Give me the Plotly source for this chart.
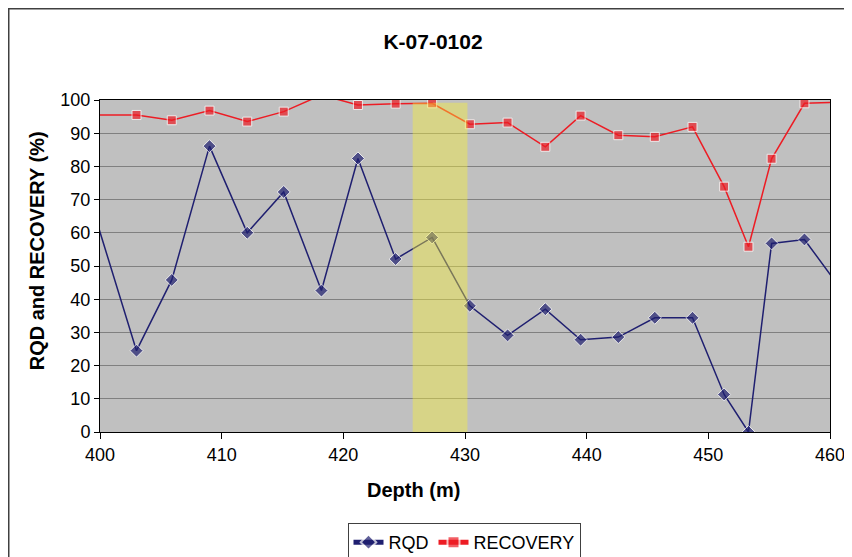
import plotly.graph_objects as go

# depths (m); first and last points sit just outside the axis range
depth = [399.9, 403.0, 405.9, 409.0, 412.1, 415.1, 418.2, 421.2, 424.3, 427.3, 430.4,
         433.5, 436.6, 439.5, 442.6, 445.6, 448.7, 451.3, 453.3, 455.2, 457.9, 460.9]
rqd = [61.4, 24.5, 45.8, 86.1, 60.0, 72.3, 42.6, 82.4, 52.1, 58.6, 38.0,
       29.1, 37.0, 27.8, 28.6, 34.4, 34.4, 11.3, 0.0, 56.8, 58.0, 43.0]
recovery = [95.5, 95.5, 93.9, 96.8, 93.5, 96.5, 101.5, 98.5, 98.9, 99.0, 92.7,
            93.2, 85.9, 95.3, 89.4, 88.9, 91.9, 73.9, 55.8, 82.3, 99.0, 99.3]
highlight = [425.7, 430.2]

COLORS = {
    'rqd': '#1f1f70',
    'recovery': '#ed1c24',
    'plot_bg': '#c0c0c0',
    'grid': '#808080',
    'band': 'rgba(247,240,57,0.42)',
}

FONT = 'Liberation Sans, Arial, sans-serif'
W, H = 844, 549  # page body adds an 8px offset

def marker_sizes(xs, size):
    return [size if 400 <= x <= 460 else 0 for x in xs]

fig = go.Figure()

fig.add_trace(go.Scatter(
    x=depth, y=rqd, name='RQD', mode='lines+markers',
    line=dict(color=COLORS['rqd'], width=1.5),
    marker=dict(symbol='diamond', size=marker_sizes(depth, 10), color=COLORS['rqd'])
))

fig.add_trace(go.Scatter(
    x=depth, y=recovery, name='RECOVERY', mode='lines+markers',
    line=dict(color=COLORS['recovery'], width=1.5),
    marker=dict(symbol='square', size=marker_sizes(depth, 9), color=COLORS['recovery'])
))

# highlighted interval
fig.add_shape(type='rect', xref='x', yref='y', x0=highlight[0], x1=highlight[1],
              y0=0, y1=99.2, fillcolor=COLORS['band'], line_width=0, layer='above')

# chart frame
fig.add_shape(type='rect', xref='paper', yref='paper', x0=-0.125, x1=1.05,
              y0=-0.45, y1=1.275, line=dict(color='#404040', width=1.5),
              fillcolor='rgba(0,0,0,0)', layer='below')

# axis titles (placed like the original, off-centre)
fig.add_annotation(text='<b>RQD and RECOVERY (%)</b>', xref='paper', yref='paper',
                   x=-0.086, y=0.545, textangle=-90, showarrow=False,
                   xanchor='center', yanchor='middle', font=dict(size=20))
fig.add_annotation(text='<b>Depth (m)</b>', xref='paper', yref='paper',
                   x=0.429, y=-0.175, showarrow=False,
                   xanchor='center', yanchor='middle', font=dict(size=20))

fig.update_layout(
    width=W, height=H,
    margin=dict(l=92, r=22, t=92, b=125),
    paper_bgcolor='white',
    plot_bgcolor=COLORS['plot_bg'],
    font=dict(family=FONT, color='black', size=18),
    title=dict(text='<b>K-07-0102</b>', x=425 / W, xref='container', xanchor='center',
               y=1 - 34 / H, yref='container', yanchor='middle', font=dict(size=21)),
    showlegend=True,
    legend=dict(orientation='h', xref='container', yref='container',
                x=456 / W, xanchor='center', y=1 - 515 / H, yanchor='top',
                bordercolor='#404040', borderwidth=1, bgcolor='white',
                font=dict(size=18), itemsizing='constant'),
    xaxis=dict(
        range=[400, 460], dtick=10, tick0=400,
        showgrid=False, zeroline=False,
        showline=True, linecolor='black', linewidth=1, mirror=True,
        ticks='outside', ticklen=6, tickcolor='black',
        automargin=False,
    ),
    yaxis=dict(
        range=[0, 100], dtick=10, tick0=0,
        showgrid=True, gridcolor=COLORS['grid'], gridwidth=1, zeroline=False,
        showline=True, linecolor='black', linewidth=1, mirror=True,
        ticks='outside', ticklen=5, tickcolor='black',
        automargin=False,
    ),
)

fig.write_html("out.html")
